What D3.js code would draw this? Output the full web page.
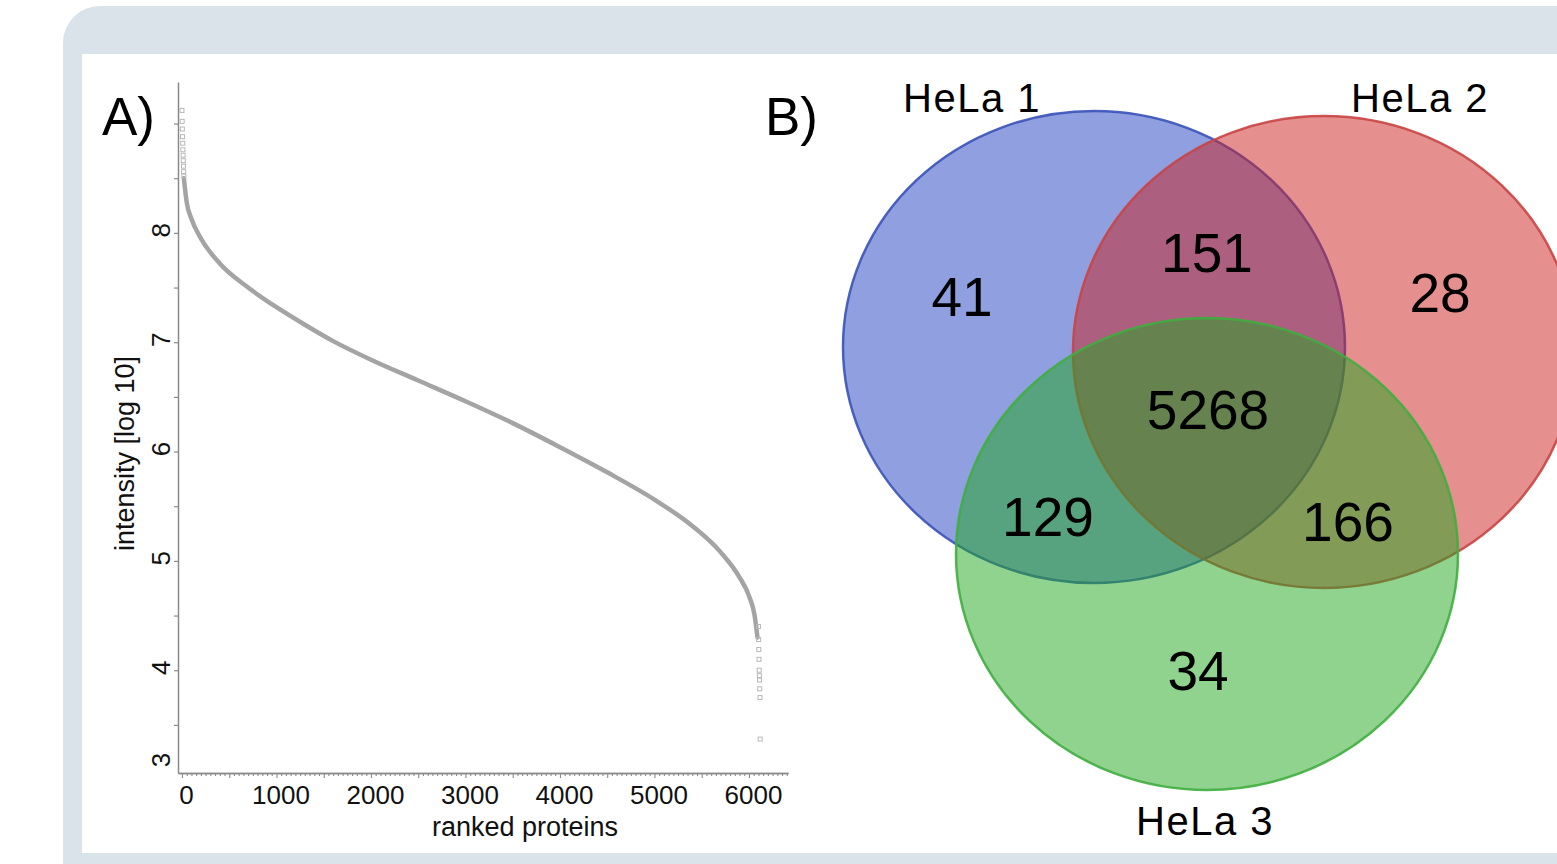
<!DOCTYPE html>
<html>
<head>
<meta charset="utf-8">
<script src="https://cdn.jsdelivr.net/npm/d3@7"></script>
<style>
  html, body { margin: 0; padding: 0; background: #fff; }
  svg { display: block; font-family: "Liberation Sans", Arial, Helvetica, sans-serif; }
</style>
</head>
<body>
<svg id="chart" width="1557" height="864"></svg>
<script>
// ---- Panel A: ranked protein intensities (log10) ----
// most intense proteins, drawn as individual points
const topRanks  = [0, 2, 4, 6, 8, 10, 12, 14, 16, 18, 20];
const topValues = [9.12, 9.02, 8.95, 8.88, 8.82, 8.76, 8.71, 8.66, 8.61, 8.56, 8.52];
// main body of the ranked curve
const curveRanks  = [20, 50, 100, 200, 400, 700, 1000, 1300, 1600, 2000, 2500, 3000, 3500, 4000, 4500, 5000, 5400, 5700, 5900, 6000, 6060, 6090];
const curveValues = [8.50, 8.28, 8.13, 7.95, 7.72, 7.50, 7.32, 7.16, 7.01, 6.84, 6.65, 6.46, 6.26, 6.04, 5.81, 5.56, 5.32, 5.08, 4.85, 4.68, 4.50, 4.30];
// least intense proteins, drawn as individual points
const tailRanks  = [6100, 6102, 6104, 6106, 6108, 6110, 6112, 6114, 6116, 6118];
const tailValues = [4.40, 4.28, 4.19, 4.10, 4.00, 3.95, 3.91, 3.83, 3.75, 3.37];

const xTickLabels = [0, 1000, 2000, 3000, 4000, 5000, 6000];
const yTickLabels = [3, 4, 5, 6, 7, 8];

// ---- Panel B: overlap of identified proteins ----
const sampleNames  = ["HeLa 1", "HeLa 2", "HeLa 3"];
const sampleColors = ["#1f3fbf", "#cc1f1f", "#1fa81f"];
const sampleStroke = ["#3a52b8", "#c94444", "#3fae3f"];
const regionSets   = [["HeLa 1"], ["HeLa 1", "HeLa 2"], ["HeLa 2"], ["HeLa 1", "HeLa 2", "HeLa 3"], ["HeLa 1", "HeLa 3"], ["HeLa 2", "HeLa 3"], ["HeLa 3"]];
const regionCounts = [41, 151, 28, 5268, 129, 166, 34];

const svg = d3.select("#chart");

// frame
svg.append("rect").attr("x", 63).attr("y", 6).attr("width", 1600).attr("height", 920)
  .attr("rx", 37).attr("fill", "#dae2ea");
svg.append("rect").attr("x", 82).attr("y", 54).attr("width", 1600).attr("height", 799)
  .attr("fill", "#ffffff");

// ================= Panel A =================
const x = d3.scaleLinear().domain([-42, 6413]).range([178, 788]);
const y = d3.scaleLinear().domain([3.06, 9.38]).range([773, 82]);
const axisColor = "#8a8a8a";
const gA = svg.append("g");

svg.append("text").attr("x", 102).attr("y", 135)
  .attr("font-size", 53).attr("fill", "#000").text("A)");

// y axis: ticks every half unit, integer labels
const yAxis = d3.axisLeft(y)
  .tickValues(d3.range(3, 9.01, 0.5))
  .tickSize(4).tickSizeOuter(0)
  .tickFormat(d => Number.isInteger(d) && yTickLabels.includes(d) ? d3.format("d")(d) : "");
const gy = gA.append("g").attr("transform", `translate(${x.range()[0]},0)`).call(yAxis);
gy.select(".domain").attr("stroke", axisColor).attr("stroke-width", 1.5);
gy.selectAll(".tick line").attr("stroke", axisColor).attr("stroke-width", 1.2);
gy.selectAll(".tick").filter(d => d < y.domain()[0]).select("line").remove();
gy.selectAll(".tick text")
  .attr("x", 0).attr("dy", 0)
  .attr("text-anchor", "middle")
  .attr("font-size", 26).attr("fill", "#111")
  .attr("font-family", "'Liberation Sans', Arial, sans-serif")
  .attr("transform", d => d < y.domain()[0] ? "translate(-8,-20) rotate(-90)" : "translate(-8,-3) rotate(-90)");

// x axis: minor ticks every 50, longer every 500, labels every 1000
const gx = gA.append("g").attr("transform", `translate(0,${y.range()[0]})`);
const xMinor = d3.axisBottom(x).tickValues(d3.range(0, 6401, 50).filter(d => d % 500 !== 0))
  .tickSize(3).tickSizeOuter(0).tickFormat("");
const xMajor = d3.axisBottom(x).tickValues(d3.range(0, 6401, 500))
  .tickSize(5).tickSizeOuter(0)
  .tickFormat(d => xTickLabels.includes(d) ? d3.format("d")(d) : "");
gx.append("g").call(xMinor);
const gxm = gx.append("g").call(xMajor);
gx.selectAll(".domain").attr("stroke", axisColor).attr("stroke-width", 1.5);
gx.selectAll(".tick line").attr("stroke", axisColor).attr("stroke-width", 1.1);
gxm.selectAll(".tick text")
  .attr("y", 31).attr("dy", 0).attr("dx", 4)
  .attr("font-size", 26).attr("fill", "#111")
  .attr("font-family", "'Liberation Sans', Arial, sans-serif");

// axis titles
gA.append("text").attr("x", (x.range()[0] + x.range()[1]) / 2 + 42).attr("y", 836)
  .attr("text-anchor", "middle").attr("font-size", 27).attr("fill", "#111")
  .text("ranked proteins");
gA.append("text").attr("transform", `translate(134,${(y.range()[0] + y.range()[1]) / 2 + 26}) rotate(-90)`)
  .attr("text-anchor", "middle").attr("font-size", 27).attr("fill", "#111")
  .text("intensity [log 10]");

// ranked curve
const pointColor = "#a4a4a4";
const curveData = curveRanks.map((r, i) => [r, curveValues[i]]);
gA.append("path").datum(curveData)
  .attr("d", d3.line().x(d => x(d[0])).y(d => y(d[1])).curve(d3.curveMonotoneX))
  .attr("fill", "none").attr("stroke", pointColor).attr("stroke-width", 4.5)
  .attr("stroke-linecap", "round").attr("stroke-linejoin", "round");

const pts = topRanks.map((r, i) => [r, topValues[i]])
  .concat(tailRanks.map((r, i) => [r, tailValues[i]]));
gA.append("g").selectAll("rect").data(pts).join("rect")
  .attr("x", d => x(d[0]) - 2).attr("y", d => y(d[1]) - 2)
  .attr("width", 4).attr("height", 4)
  .attr("fill", "none").attr("stroke", "#b8b8b8").attr("stroke-width", 1);

// ================= Panel B =================
svg.append("text").attr("x", 765).attr("y", 135)
  .attr("font-size", 53).attr("fill", "#000").text("B)");

// layout of the three ellipses (centre and radii in px)
const vennCx = [1094, 1324, 1207];
const vennCy = [347, 352, 554];
const vennRx = 251, vennRy = 236;
// anchor of each region's count label (px)
const regionLabelX = [962, 1207, 1440, 1208, 1048, 1348, 1198];
const regionLabelY = [296, 252, 292, 409, 516, 521, 670];

const gB = svg.append("g");
gB.selectAll("ellipse").data(sampleNames).join("ellipse")
  .attr("cx", (d, i) => vennCx[i]).attr("cy", (d, i) => vennCy[i])
  .attr("rx", vennRx).attr("ry", vennRy)
  .attr("fill", (d, i) => sampleColors[i]).attr("fill-opacity", 0.5)
  .attr("stroke", (d, i) => sampleStroke[i]).attr("stroke-width", 2.5).attr("stroke-opacity", 0.9);

gB.selectAll("text.count").data(regionCounts).join("text").attr("class", "count")
  .attr("x", (d, k) => regionLabelX[k]).attr("y", (d, k) => regionLabelY[k]).attr("dy", "0.36em")
  .attr("text-anchor", "middle").attr("font-size", 55).attr("fill", "#000")
  .text(d => d);

// sample names
const nameX = [972, 1420, 1205];
const nameY = [112, 112, 835];
gB.selectAll("text.name").data(sampleNames).join("text").attr("class", "name")
  .attr("x", (d, i) => nameX[i]).attr("y", (d, i) => nameY[i])
  .attr("text-anchor", "middle").attr("font-size", 40).attr("letter-spacing", 1.5)
  .attr("fill", "#000").text(d => d);
</script>
</body>
</html>
